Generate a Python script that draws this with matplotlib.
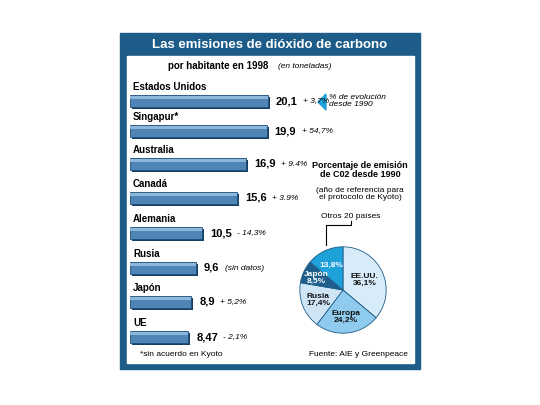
import matplotlib
matplotlib.use("Agg")
import matplotlib.pyplot as plt
from matplotlib.patches import Rectangle, Polygon
import numpy as np

countries = ["Estados Unidos", "Singapur*", "Australia", "Canadá", "Alemania", "Rusia", "Japón", "UE"]
values = [20.1, 19.9, 16.9, 15.6, 10.5, 9.6, 8.9, 8.47]
value_labels = ["20,1", "19,9", "16,9", "15,6", "10,5", "9,6", "8,9", "8,47"]
changes = ["+ 3,7%", "+ 54,7%", "+ 9.4%", "+ 3.9%", "- 14,3%", "(sin datos)", "+ 5,2%", "- 2,1%"]
pie_labels = ["EE.UU.\n36,1%", "Europa\n24,2%", "Rusia\n17,4%", "Japón\n8,5%", "13,8%"]
pie_values = [36.1, 24.2, 17.4, 8.5, 13.8]
pie_colors = ["#d8ebf8", "#8fcbee", "#cfe5f6", "#1f5e8c", "#1ea0d8"]
pie_text_colors = ["#111111", "#111111", "#111111", "white", "white"]

F = "Liberation Sans"
fig = plt.figure(figsize=(5.4, 4.05), dpi=100)
ax = fig.add_axes([0, 0, 1, 1])
ax.set_xlim(0, 540); ax.set_ylim(405, 0); ax.axis("off")

border = "#1d5c88"
ax.add_patch(Rectangle((120, 33), 300, 336, color=border))
ax.add_patch(Rectangle((127, 56), 287, 307, color="white"))
ax.text(270, 45, "Las emisiones de dióxido de carbono", color="white", ha="center", va="center",
        fontsize=9.5, fontweight="bold", fontfamily=F)
ax.text(218, 66, "por habitante en 1998", ha="center", va="center", fontsize=7, fontweight="bold", fontfamily=F)
ax.text(278, 66, "(en toneladas)", ha="left", va="center", fontsize=6, style="italic", fontfamily=F)

scale = 6.87
x0 = 130
ys = [101, 131, 164, 198, 233, 268, 302, 337]
for c, v, vl, ch, y in zip(countries, values, value_labels, changes, ys):
    ax.barh(y + 2, v * scale, left=x0 + 2, height=12, color="#163f62")
    ax.barh(y, v * scale, left=x0, height=12, color="#4f84b6", edgecolor="#1d4f7a", linewidth=0.6)
    ax.barh(y - 4, v * scale, left=x0, height=3, color="#8db6db")
    ax.text(x0 + 3, y - 14, c, fontsize=7, fontweight="bold", va="center", fontfamily=F)
    xe = x0 + v * scale + 8
    ax.text(xe, y, vl, fontsize=8, fontweight="bold", va="center", fontfamily=F)
    ax.text(xe + (27 if len(vl) == 4 else 21), y, ch, fontsize=6, style="italic", va="center", fontfamily=F)

ax.add_patch(Polygon([[326, 94], [326, 110], [318, 102]], color="#1ea0d8"))
ax.text(329, 101, "% de evolución\ndesde 1990", fontsize=6, style="italic", va="center",
        fontfamily=F, linespacing=1.0)

ax.text(360, 170, "Porcentaje de emisión\nde C02 desde 1990", ha="center", va="center", fontsize=6.5,
        fontweight="bold", fontfamily=F, linespacing=1.0)
ax.text(360, 194, "(año de referencia para\nel protocolo de Kyoto)", ha="center", va="center", fontsize=6,
        fontfamily=F, linespacing=1.0)
ax.text(351, 217, "Otros 20 países", ha="center", va="center", fontsize=6, fontfamily=F)
ax.plot([326, 326, 351, 351], [245, 225, 225, 221], color="black", lw=0.8)
ax.text(140, 355, "*sin acuerdo en Kyoto", fontsize=6, va="center", fontfamily=F)
ax.text(408, 355, "Fuente: AIE y Greenpeace", fontsize=6, va="center", ha="right", fontfamily=F)

cx, cy, r = 343, 290, 54
pax = fig.add_axes([(cx - r) / 540, 1 - (cy + r) / 405, 2 * r / 540, 2 * r / 405])
wedges, _ = pax.pie(pie_values, colors=pie_colors, startangle=90, counterclock=False,
                    wedgeprops=dict(edgecolor="#1d5c88", linewidth=0.6))
ang = 90
radii = [0.55, 0.62, 0.62, 0.68, 0.62]
for w, lab, tc, v, rr in zip(wedges, pie_labels, pie_text_colors, pie_values, radii):
    mid = np.deg2rad(ang - v * 3.6 / 2)
    ang -= v * 3.6
    pax.text(rr * np.cos(mid), rr * np.sin(mid), lab, ha="center", va="center", fontsize=6,
             fontweight="bold", color=tc, fontfamily=F, linespacing=1.0)
pax.set_aspect("equal")

fig.savefig("out.png", dpi=100)
